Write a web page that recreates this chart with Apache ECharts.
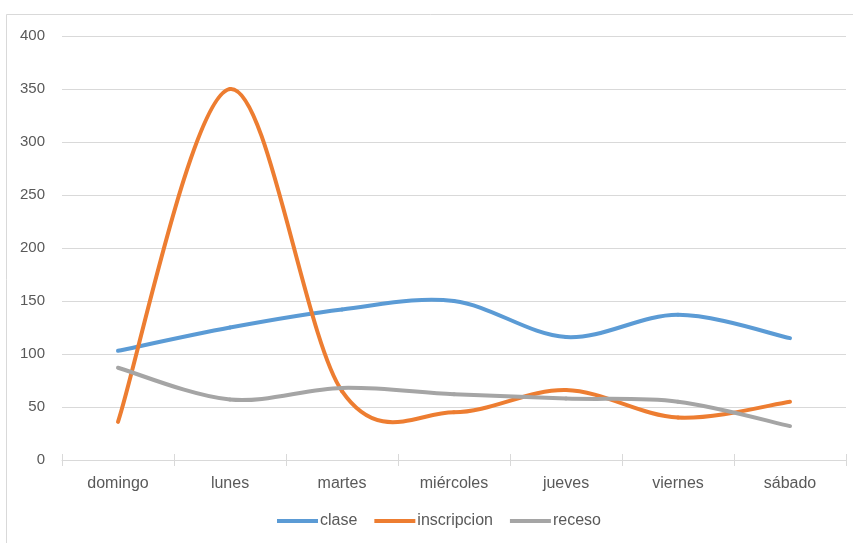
<!DOCTYPE html>
<html>
<head>
<meta charset="utf-8">
<script src="https://cdn.jsdelivr.net/npm/echarts@6/dist/echarts.min.js"></script>
<style>
  html, body { margin: 0; padding: 0; background: #fff; }
  #chart { width: 853px; height: 543px; }
</style>
</head>
<body>
<div id="chart"></div>
<script>
// Days of the week and counts per activity
const dias = ['domingo', 'lunes', 'martes', 'miércoles', 'jueves', 'viernes', 'sábado'];
const clase = [103, 125, 142, 150, 116, 137, 115];
const inscripcion = [36, 350, 65, 45, 66, 40, 55];
const receso = [87, 57, 68, 62, 58, 55, 32];
const yTicks = { min: 0, max: 400, interval: 50 };

const FONT = '"Liberation Sans", Arial, sans-serif';
const TEXT = '#595959';
const GRID = '#D9D9D9';

const chart = echarts.init(document.getElementById('chart'));

// Smoothed line: Catmull-Rom style cubic segments between neighbouring
// points, positioned through the chart's own axes (api.coord).
function curva(name, values, color) {
  const last = values.length - 1;
  const at = (api, k) => {
    const j = Math.max(0, Math.min(last, k));
    return api.coord([j, values[j]]);
  };
  return {
    name: name,
    type: 'custom',
    data: values.map((v, i) => [i, v]),
    encode: { x: 0, y: 1 },
    itemStyle: { color: color },
    z: 3,
    renderItem: function (params, api) {
      const i = params.dataIndex;
      if (i >= last) return null;
      const p0 = at(api, i - 1), p1 = at(api, i), p2 = at(api, i + 1), p3 = at(api, i + 2);
      return {
        type: 'bezierCurve',
        shape: {
          x1: p1[0], y1: p1[1],
          x2: p2[0], y2: p2[1],
          cpx1: p1[0] + (p2[0] - p0[0]) / 6,
          cpy1: p1[1] + (p2[1] - p0[1]) / 6,
          cpx2: p2[0] - (p3[0] - p1[0]) / 6,
          cpy2: p2[1] - (p3[1] - p1[1]) / 6
        },
        style: { stroke: color, lineWidth: 4, fill: null, lineCap: 'round' }
      };
    }
  };
}

chart.setOption({
  animation: false,
  backgroundColor: '#fff',
  textStyle: { fontFamily: FONT },
  graphic: [{
    type: 'rect',
    shape: { x: 6.5, y: 14.5, width: 900, height: 600 },
    style: { fill: 'none', stroke: GRID, lineWidth: 1 },
    silent: true,
    z: -10
  }],
  grid: { left: 62, right: 7, top: 36, bottom: 83, containLabel: false },
  legend: {
    bottom: 9,
    left: 272,
    itemWidth: 41,
    itemHeight: 4,
    itemGap: 17,
    icon: 'rect',
    textStyle: { color: TEXT, fontSize: 16, fontFamily: FONT, padding: [0, 0, 0, -3] },
    data: ['clase', 'inscripcion', 'receso']
  },
  xAxis: [{
    type: 'category',
    data: dias,
    boundaryGap: true,
    axisLine: { lineStyle: { color: GRID, width: 1 } },
    axisTick: { show: true, length: 6, lineStyle: { color: GRID } },
    axisLabel: { color: TEXT, fontSize: 16, fontFamily: FONT, margin: 16 }
  }, {
    // mirrored ticks so the category dividers cross the axis line
    type: 'category',
    data: dias,
    position: 'bottom',
    boundaryGap: true,
    axisLine: { show: false },
    axisTick: { show: true, inside: true, length: 6, lineStyle: { color: GRID } },
    axisLabel: { show: false }
  }],
  yAxis: {
    type: 'value',
    min: yTicks.min,
    max: yTicks.max,
    interval: yTicks.interval,
    axisLine: { show: false },
    axisTick: { show: false },
    axisLabel: { color: TEXT, fontSize: 15, fontFamily: FONT, margin: 17 },
    splitLine: { lineStyle: { color: GRID, width: 1 } }
  },
  series: [
    curva('clase', clase, '#5B9BD5'),
    curva('inscripcion', inscripcion, '#ED7D31'),
    curva('receso', receso, '#A5A5A5')
  ]
});
</script>
</body>
</html>
